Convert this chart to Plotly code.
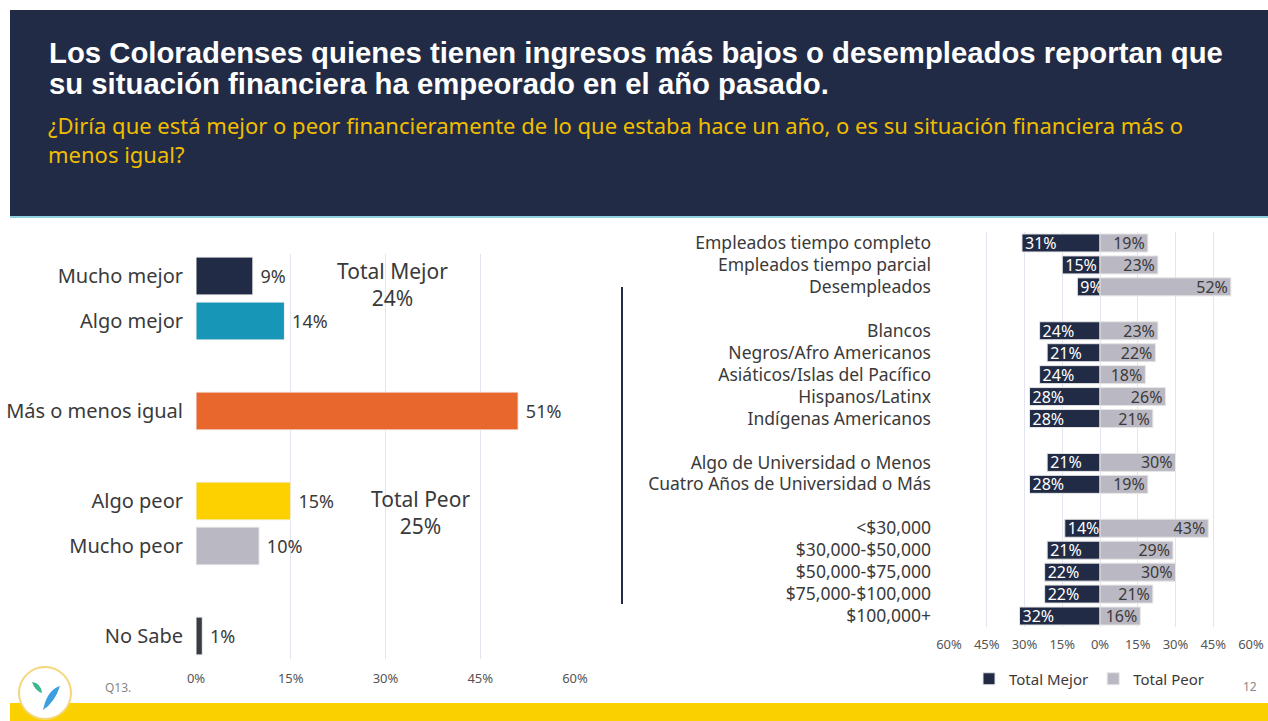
import plotly.graph_objects as go

W, H = 1268, 721

# left chart data
left_cats = ["Mucho mejor", "Algo mejor", "Más o menos igual", "Algo peor", "Mucho peor", "No Sabe"]
left_vals = [9, 14, 51, 15, 10, 1]
left_colors = ["#222B45", "#1796B8", "#E8672D", "#FDD000", "#BAB8C2", "#3A3C43"]
left_order = ["Mucho mejor", "Algo mejor", " ", "Más o menos igual", "  ",
              "Algo peor", "Mucho peor", "   ", "No Sabe"]

# right chart data
groups = ["Empleados tiempo completo", "Empleados tiempo parcial", "Desempleados",
          "Blancos", "Negros/Afro Americanos", "Asiáticos/Islas del Pacífico",
          "Hispanos/Latinx", "Indígenas Americanos",
          "Algo de Universidad o Menos", "Cuatro Años de Universidad o Más",
          "<$30,000", "$30,000-$50,000", "$50,000-$75,000", "$75,000-$100,000", "$100,000+"]
mejor = [31, 15, 9, 24, 21, 24, 28, 28, 21, 28, 14, 21, 22, 22, 32]
peor = [19, 23, 52, 23, 22, 18, 26, 21, 30, 19, 43, 29, 30, 21, 16]
right_order = groups[:3] + [" "] + groups[3:8] + ["  "] + groups[8:10] + ["   "] + groups[10:]

tick_vals = [-60, -45, -30, -15, 0, 15, 30, 45, 60]
tick_text = ["60%", "45%", "30%", "15%", "0%", "15%", "30%", "45%", "60%"]

FONT = "Noto Sans"
TXT = "#3A3A3A"


def px_x(x):
    return x / W


def px_y(y):
    return 1 - y / H


fig = go.Figure()

fig.add_trace(go.Bar(
    x=left_vals, y=left_cats, orientation="h",
    marker=dict(color=left_colors, line=dict(color="#F2F2F2", width=1)),
    width=0.84,
    text=[f" {v}%" for v in left_vals], textposition="outside", cliponaxis=False,
    textfont=dict(size=18, color=TXT, family=FONT),
    showlegend=False, hoverinfo="skip",
    xaxis="x", yaxis="y",
))

fig.add_trace(go.Bar(
    x=[-v for v in mejor], y=groups, orientation="h", name="Total Mejor",
    marker=dict(color="#222B45", line=dict(color="#E6E6E6", width=1)),
    width=0.82,
    text=[f"{v}%" for v in mejor], textposition="inside", insidetextanchor="end",
    constraintext="none",
    textfont=dict(size=16, color="white", family=FONT),
    xaxis="x2", yaxis="y2", hoverinfo="skip",
))
fig.add_trace(go.Bar(
    x=peor, y=groups, orientation="h", name="Total Peor",
    marker=dict(color="#BAB8C2", line=dict(color="#E6E6E6", width=1)),
    width=0.82,
    text=[f"{v}%" for v in peor], textposition="inside", insidetextanchor="end",
    constraintext="none",
    textfont=dict(size=16, color=TXT, family=FONT),
    xaxis="x2", yaxis="y2", hoverinfo="skip",
))

fig.update_layout(
    width=W, height=H,
    margin=dict(l=0, r=0, t=0, b=0, autoexpand=False),
    paper_bgcolor="white", plot_bgcolor="white",
    barmode="relative",
    font=dict(family=FONT, color=TXT),
    xaxis=dict(
        domain=[px_x(196), px_x(575)], range=[0, 60],
        tickvals=[0, 15, 30, 45, 60], ticktext=["0%", "15%", "30%", "45%", "60%"],
        showgrid=True, gridcolor="#E2E4F0", gridwidth=1, zeroline=False,
        tickfont=dict(size=13, color="#555"), ticklabelstandoff=10,
        anchor="y", automargin=False,
    ),
    yaxis=dict(
        domain=[px_y(658.5), px_y(253.5)],
        categoryorder="array", categoryarray=left_order, autorange="reversed",
        tickmode="array", tickvals=left_cats, ticktext=left_cats,
        tickfont=dict(size=20, color=TXT), ticklabelstandoff=12,
        showgrid=False, anchor="x", automargin=False,
    ),
    xaxis2=dict(
        domain=[px_x(949), px_x(1251)], range=[-60, 60],
        tickvals=tick_vals, ticktext=tick_text,
        showgrid=True, gridcolor="#E2E4F0", gridwidth=1, zeroline=False,
        tickfont=dict(size=13, color="#555"), ticklabelstandoff=8,
        anchor="y2", automargin=False,
    ),
    yaxis2=dict(
        domain=[px_y(627), px_y(232)],
        categoryorder="array", categoryarray=right_order, autorange="reversed",
        tickmode="array", tickvals=groups, ticktext=groups,
        tickfont=dict(size=17.5, color=TXT), ticklabelstandoff=17,
        showgrid=False, anchor="x2", automargin=False,
    ),
    legend=dict(
        orientation="h", x=px_x(969), y=px_y(679), xanchor="left", yanchor="middle",
        font=dict(size=15, color=TXT), itemwidth=30, traceorder="normal",
        bgcolor="rgba(0,0,0,0)",
    ),
)

shapes = [
    # header band
    dict(type="rect", xref="paper", yref="paper", x0=px_x(10), x1=1, y0=px_y(216), y1=px_y(10),
         fillcolor="#222B45", line=dict(width=0), layer="below"),
    dict(type="line", xref="paper", yref="paper", x0=px_x(10), x1=1, y0=px_y(217), y1=px_y(217),
         line=dict(color="#8ED1DF", width=2)),
    # bottom yellow band
    dict(type="rect", xref="paper", yref="paper", x0=px_x(10), x1=1, y0=0, y1=px_y(703),
         fillcolor="#FAD000", line=dict(width=0), layer="below"),
    # vertical divider
    dict(type="line", xref="paper", yref="paper", x0=px_x(622), x1=px_x(622), y0=px_y(604), y1=px_y(287),
         line=dict(color="#222B45", width=2)),
    # logo
    dict(type="circle", xref="paper", yref="paper",
         x0=px_x(19), x1=px_x(71), y0=px_y(719), y1=px_y(667),
         fillcolor="white", line=dict(color="#F3D77A", width=2)),
    dict(type="path", xref="paper", yref="paper",
         path=f"M {px_x(32)},{px_y(682)} Q {px_x(41)},{px_y(683)} {px_x(42)},{px_y(693)} Q {px_x(35)},{px_y(691)} {px_x(32)},{px_y(682)} Z",
         fillcolor="#3DB88C", line=dict(width=0)),
    dict(type="path", xref="paper", yref="paper",
         path=f"M {px_x(60)},{px_y(686)} Q {px_x(47)},{px_y(690)} {px_x(43)},{px_y(710)} Q {px_x(55)},{px_y(702)} {px_x(60)},{px_y(686)} Z",
         fillcolor="#3E9FE0", line=dict(width=0)),
]
fig.update_layout(shapes=shapes)

title_font = dict(family="Liberation Sans", size=29.3, color="white", weight="bold")
sub_font = dict(family=FONT, size=22, color="#F0BE00")
annotations = [
    dict(text="Los Coloradenses quienes tienen ingresos más bajos o desempleados reportan que",
         x=px_x(47), y=px_y(53), xanchor="left", yanchor="middle", font=title_font),
    dict(text="su situación financiera ha empeorado en el año pasado.",
         x=px_x(47), y=px_y(84), xanchor="left", yanchor="middle", font=title_font),
    dict(text="¿Diría que está mejor o peor financieramente de lo que estaba hace un año, o es su situación financiera más o<br>"
              "menos igual?",
         x=px_x(46), y=px_y(139), xanchor="left", yanchor="middle", align="left", font=sub_font),
    dict(text="Total Mejor<br>24%", x=px_x(392), y=px_y(284), xanchor="center", yanchor="middle",
         font=dict(size=21, color=TXT)),
    dict(text="Total Peor<br>25%", x=px_x(420), y=px_y(512), xanchor="center", yanchor="middle",
         font=dict(size=21, color=TXT)),
    dict(text="Q13.", x=px_x(103), y=px_y(687), xanchor="left", yanchor="middle",
         font=dict(size=12, color="#888")),
    dict(text="12", x=px_x(1259), y=px_y(686), xanchor="right", yanchor="middle",
         font=dict(size=12, color="#888")),
]
for a in annotations:
    a["xref"] = "paper"
    a["yref"] = "paper"
    a["showarrow"] = False
fig.update_layout(annotations=annotations)

fig.write_html("out.html", config={"displayModeBar": False},
               post_script="document.body.style.margin='0';")
